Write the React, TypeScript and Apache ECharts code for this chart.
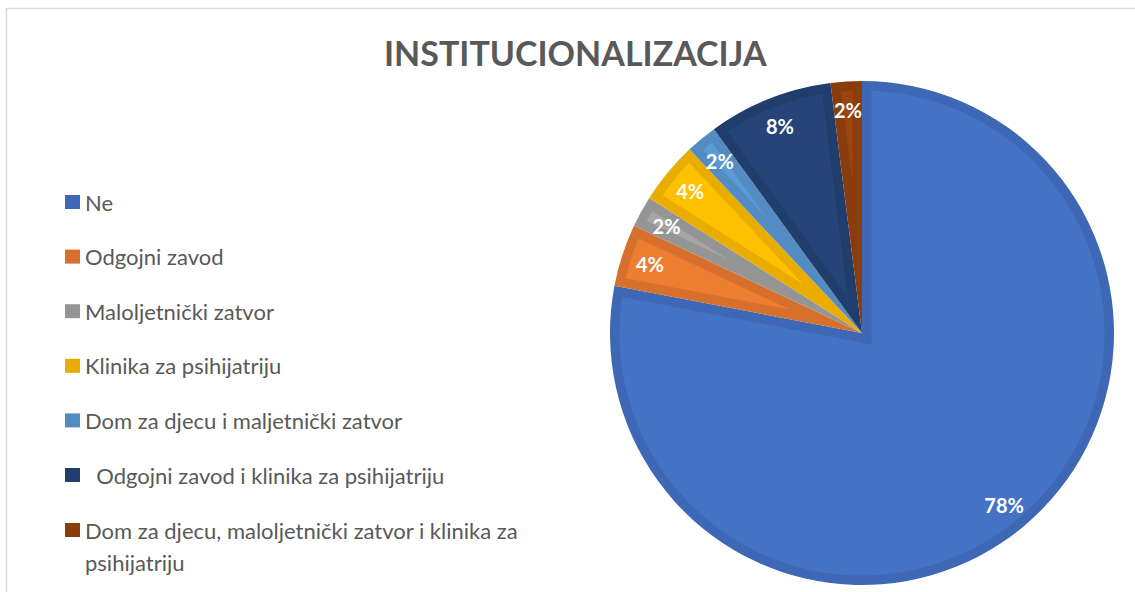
import React, { useEffect, useRef } from "react";
import * as echarts from "echarts";

const categories = [
  "Ne",
  "Odgojni zavod",
  "Maloljetnički zatvor",
  "Klinika za psihijatriju",
  "Dom za djecu i maljetnički zatvor",
  "Odgojni zavod i klinika za psihijatriju",
  "Dom za djecu, maloljetnički zatvor i klinika za psihijatriju",
];
const counts = [39, 2, 1, 2, 1, 4, 1];
const fillColors = ["#4472C4", "#ED7D31", "#A5A5A5", "#FFC000", "#5B9BD5", "#264478", "#9A440E"];
const edgeColors = ["#3E68B5", "#D7702C", "#959595", "#E8AD00", "#528CC2", "#213D6B", "#8A3D0C"];
const titleText = "INSTITUCIONALIZACIJA";

const CX = 862;
const CY = 333;
const R = 252;
const EDGE = 9.5;

export default function App() {
  const ref = useRef<HTMLDivElement>(null);
  useEffect(() => {
    const chart = echarts.init(ref.current!, null, { renderer: "svg" });
    const total = counts.reduce((a, b) => a + b, 0);
    const cum: number[] = [];
    let acc = 0;
    counts.forEach((c) => {
      cum.push(acc);
      acc += c;
    });
    const pt = (ang: number, r: number) => [CX + r * Math.sin(ang), CY - r * Math.cos(ang)];

    const renderItem = (params: any) => {
      const i = params.dataIndex;
      const a1 = (2 * Math.PI * cum[i]) / total;
      const th = (2 * Math.PI * counts[i]) / total;
      const a2 = a1 + th;
      const rr = R - EDGE;
      const mid = a1 + th / 2;
      const pd = EDGE / Math.sin(th / 2);
      const points: number[][] = [pt(mid, pd)];
      const off = Math.asin(EDGE / rr);
      const s = a1 + off;
      const e = a2 - off;
      const steps = Math.max(8, Math.ceil(((e - s) * 180) / Math.PI));
      for (let k = 0; k <= steps; k++) {
        points.push(pt(s + ((e - s) * k) / steps, rr));
      }
      return {
        type: "polygon",
        shape: { points },
        style: { fill: fillColors[i] },
        silent: true,
      };
    };

    const pieData = categories.map((n, i) => ({
      name: n,
      value: counts[i],
      itemStyle: { color: edgeColors[i] },
    }));

    chart.setOption({
      animation: false,
      title: {
        text: titleText,
        left: 384,
        top: 35,
        padding: 0,
        textStyle: { fontFamily: "Lato", fontWeight: "bold", fontSize: 34, color: "#595959" },
      },
      graphic: [
        {
          type: "rect",
          shape: { x: 6.5, y: 8.5, width: 1300, height: 800 },
          style: { fill: "none", stroke: "#D9D9D9", lineWidth: 1.5 },
          silent: true,
          z: -10,
        },
      ],
      legend: [
        {
          orient: "vertical",
          left: 65,
          top: 191,
          padding: 0,
          itemWidth: 15,
          itemHeight: 14,
          itemGap: 32.6,
          icon: "rect",
          data: categories.slice(0, 6),
          formatter: (n: string) => (n === categories[5] ? "\u00a0\u00a0" + n : n),
          textStyle: { fontFamily: "Lato", fontSize: 22, lineHeight: 22, color: "#595959" },
        },
        {
          orient: "vertical",
          left: 65,
          top: 482,
          padding: 0,
          itemWidth: 15,
          itemHeight: 14,
          icon: "rect",
          data: categories.slice(6),
          formatter: (n: string) => "\n" + n.replace("klinika za ", "klinika za\n"),
          textStyle: {
            fontFamily: "Lato",
            fontSize: 22,
            lineHeight: 32,
            color: "#595959",
          },
        },
      ],
      series: [
        {
          type: "pie",
          name: "base",
          center: [CX, CY],
          radius: [0, R],
          startAngle: 90,
          clockwise: true,
          label: { show: false },
          labelLine: { show: false },
          data: pieData,
          z: 1,
        },
        {
          type: "custom",
          name: "interior",
          coordinateSystem: "none",
          renderItem,
          data: counts.map((c) => [c]),
          z: 2,
          silent: true,
        },
        {
          type: "pie",
          name: "labels",
          center: [CX, CY],
          radius: [188, R],
          startAngle: 90,
          clockwise: true,
          silent: true,
          itemStyle: { color: "rgba(0,0,0,0)" },
          labelLine: { show: false },
          label: {
            show: true,
            position: "inside",
            formatter: (p: any) => Math.round(p.percent) + "%",
            color: "#FFFFFF",
            fontFamily: "Lato",
            fontWeight: "bold",
            fontSize: 20,
          },
          data: categories.map((n, i) => ({ name: n, value: counts[i] })),
          z: 3,
        },
      ],
    });
    return () => chart.dispose();
  }, []);
  return (
    <div
      ref={ref}
      style={{ position: "absolute", left: 0, top: 0, width: 1135, height: 592, background: "#fff" }}
    />
  );
}
